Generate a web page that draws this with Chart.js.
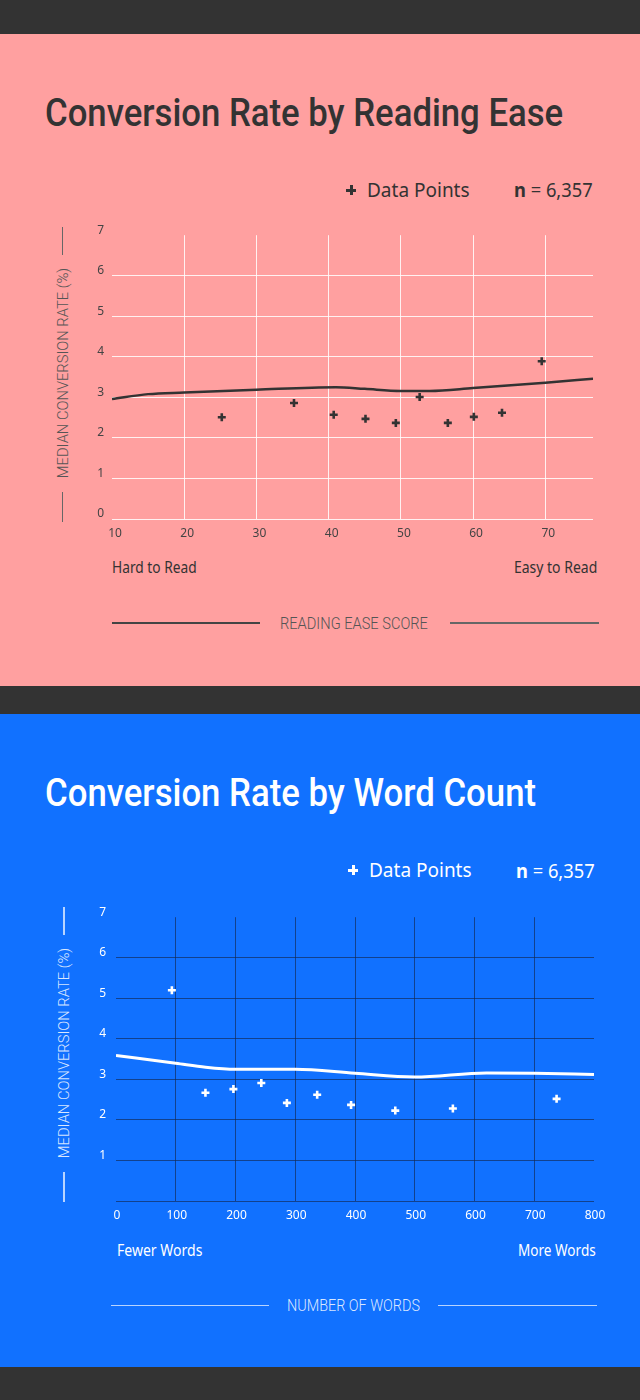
<!DOCTYPE html>
<html>
<head>
<meta charset="utf-8">
<script src="https://cdn.jsdelivr.net/npm/chart.js@4"></script>
<style>
body { margin: 0; width: 640px; height: 1400px; background: #333; position: relative; overflow: hidden; font-family: "Noto Sans", sans-serif; }
.panel { position: absolute; left: 0; width: 640px; }
.t { position: absolute; white-space: nowrap; line-height: 0; transform-origin: 0 50%; }
.rot { position: absolute; white-space: nowrap; line-height: 1; }
.bar { position: absolute; }
canvas { position: absolute; left: 0; }
</style>
</head>
<body>
<div class="panel" style="top:34px;height:652px;background:#ffa0a0"></div>
<div class="panel" style="top:714px;height:653px;background:#1171ff"></div>

<!-- reading ease panel -->
<div class="t" data-w="518" style="left:45px;top:113px;font:500 38px/0 Roboto;color:#333">Conversion Rate by Reading Ease</div>
<div class="bar" style="left:346px;top:189px;width:10px;height:3px;background:#333"></div>
<div class="bar" style="left:349.5px;top:185px;width:3px;height:10px;background:#333"></div>
<div class="t" data-w="103" style="left:367px;top:190px;font-size:19px;color:#333">Data Points</div>
<div class="t" data-w="79" style="left:514px;top:190px;font-size:19px;color:#333"><b>n</b> = 6,357</div>
<div class="rot" data-w="210" style="left:63px;top:373px;font:300 15px/1 Roboto;color:#555">MEDIAN CONVERSION RATE (%)</div>
<div class="bar" style="left:61.5px;top:227px;width:1.5px;height:28px;background:#666"></div>
<div class="bar" style="left:61.5px;top:492px;width:1.5px;height:30px;background:#666"></div>
<canvas id="easeChart" width="640" height="330" style="top:220px"></canvas>
<div class="t" data-w="85" style="left:112px;top:567px;font-size:16px;color:#333">Hard to Read</div>
<div class="t" data-w="83" style="left:514px;top:567px;font-size:16px;color:#333">Easy to Read</div>
<div class="bar" style="left:112px;top:622px;width:148px;height:1.5px;background:#444"></div>
<div class="t" data-w="148" style="left:280px;top:623px;font:300 17px/0 Roboto;color:#555">READING EASE SCORE</div>
<div class="bar" style="left:450px;top:622px;width:149px;height:1.5px;background:#666"></div>

<!-- word count panel -->
<div class="t" data-w="491" style="left:45px;top:793px;font:500 38px/0 Roboto;color:#fff">Conversion Rate by Word Count</div>
<div class="bar" style="left:348px;top:869px;width:10px;height:3px;background:#fff"></div>
<div class="bar" style="left:351.5px;top:865px;width:3px;height:10px;background:#fff"></div>
<div class="t" data-w="103" style="left:369px;top:870px;font-size:19px;color:#fff">Data Points</div>
<div class="t" data-w="79" style="left:516px;top:871px;font-size:19px;color:#fff"><b>n</b> = 6,357</div>
<div class="rot" data-w="210" style="left:64px;top:1053px;font:300 15px/1 Roboto;color:rgba(255,255,255,0.85)">MEDIAN CONVERSION RATE (%)</div>
<div class="bar" style="left:63px;top:907px;width:1.5px;height:28px;background:rgba(255,255,255,0.7)"></div>
<div class="bar" style="left:63px;top:1172px;width:1.5px;height:30px;background:rgba(255,255,255,0.7)"></div>
<canvas id="wordChart" width="640" height="330" style="top:900px"></canvas>
<div class="t" data-w="85" style="left:117px;top:1250px;font-size:16px;color:#fff">Fewer Words</div>
<div class="t" data-w="78" style="left:518px;top:1250px;font-size:16px;color:#fff">More Words</div>
<div class="bar" style="left:111px;top:1304.5px;width:158px;height:1.5px;background:rgba(255,255,255,0.7)"></div>
<div class="t" data-w="133" style="left:287px;top:1305px;font:300 17px/0 Roboto;color:rgba(255,255,255,0.85)">NUMBER OF WORDS</div>
<div class="bar" style="left:438px;top:1304.5px;width:159px;height:1.5px;background:rgba(255,255,255,0.7)"></div>

<script>
// reading ease chart values
var easeScores = [25.2, 35.2, 40.7, 45.1, 49.3, 52.6, 56.5, 60.1, 64.0, 69.5]
var easeRates = [2.51, 2.86, 2.57, 2.47, 2.37, 3.01, 2.37, 2.52, 2.62, 3.89]
var easeTrendX = [10, 15, 20, 30, 41, 45, 50, 54, 60, 70, 76.6]
var easeTrendY = [2.96, 3.08, 3.12, 3.19, 3.25, 3.21, 3.16, 3.16, 3.23, 3.36, 3.46]

// word count chart values
var wordCounts = [93.5, 149.7, 196.5, 243.2, 286, 336.7, 393.4, 467.4, 563.8, 737.4]
var wordRates = [5.2, 2.67, 2.76, 2.91, 2.42, 2.62, 2.37, 2.23, 2.28, 2.52]
var wordTrendX = [0, 100, 150, 200, 300, 400, 500, 620, 700, 800]
var wordTrendY = [3.59, 3.40, 3.30, 3.25, 3.25, 3.15, 3.06, 3.16, 3.15, 3.12]

function pairs(xs, ys) {
    return xs.map(function (v, i) { return {x: v, y: ys[i]} })
}

function buildChart(id, o) {
    var ctx = document.getElementById(id).getContext('2d')
    return new Chart(ctx, {
        type: 'scatter',
        data: {
            datasets: [
                {
                    data: pairs(o.px, o.py),
                    pointStyle: 'cross',
                    pointRadius: 4,
                    pointBorderWidth: 2.6,
                    borderColor: o.ink,
                    backgroundColor: o.ink
                },
                {
                    data: pairs(o.lx, o.ly),
                    showLine: true,
                    pointRadius: 0,
                    borderColor: o.ink,
                    borderWidth: o.lineWidth,
                    tension: 0.4,
                    cubicInterpolationMode: 'monotone'
                }
            ]
        },
        options: {
            responsive: false,
            animation: false,
            events: [],
            layout: {padding: {top: o.padTop, right: o.padRight, left: 0, bottom: 0}},
            plugins: {legend: {display: false}, tooltip: {enabled: false}},
            scales: {
                x: {
                    type: 'linear',
                    min: o.xMin,
                    max: o.xMax,
                    border: {display: false},
                    grid: {
                        drawTicks: false,
                        color: function (c) {
                            var v = c.tick && c.tick.value
                            return (v === o.xMin || v === o.xMax) ? 'rgba(0,0,0,0)' : o.grid
                        }
                    },
                    ticks: {
                        stepSize: o.xStep,
                        includeBounds: false,
                        color: o.tickInk,
                        font: {family: 'Noto Sans', size: 12},
                        padding: 7,
                        labelOffset: o.xLabelOffset,
                        maxRotation: 0
                    },
                    afterFit: function (s) { s.height = o.xAxisH }
                },
                y: {
                    min: 0,
                    max: 7,
                    border: {display: false},
                    grid: {
                        drawTicks: false,
                        color: function (c) {
                            return c.tick && c.tick.value === 7 ? 'rgba(0,0,0,0)' : o.grid
                        }
                    },
                    ticks: {
                        stepSize: 1,
                        color: o.tickInk,
                        font: {family: 'Noto Sans', size: 12},
                        padding: o.yPad,
                        labelOffset: -5,
                        callback: function (v) { return (v === 0 && o.hideZero) ? '' : v }
                    },
                    afterFit: function (s) { s.width = o.yAxisW }
                }
            }
        }
    })
}

window.addEventListener('load', function () {
    // squeeze the html labels to the measured widths
    document.querySelectorAll('[data-w]').forEach(function (el) {
        var s = parseFloat(el.dataset.w) / el.offsetWidth
        if (el.classList.contains('rot')) {
            el.style.transform = 'translate(-50%,-50%) rotate(-90deg) scaleX(' + s + ')'
        } else {
            el.style.transform = 'scaleX(' + s + ')'
        }
    })

    buildChart('easeChart', {
        px: easeScores, py: easeRates, lx: easeTrendX, ly: easeTrendY,
        ink: '#333', tickInk: '#444', grid: 'rgba(255,255,255,0.85)', lineWidth: 2.5,
        xMin: 10, xMax: 76.6, xStep: 10, xLabelOffset: 3,
        padTop: 12, padRight: 47, xAxisH: 31, yAxisW: 112, yPad: 8, hideZero: false
    })

    buildChart('wordChart', {
        px: wordCounts, py: wordRates, lx: wordTrendX, ly: wordTrendY,
        ink: '#fff', tickInk: '#fff', grid: 'rgba(20,40,80,0.65)', lineWidth: 3,
        xMin: 0, xMax: 800, xStep: 100, xLabelOffset: 1,
        padTop: 14, padRight: 46, xAxisH: 29, yAxisW: 116, yPad: 10, hideZero: true
    })
})
</script>
</body>
</html>
